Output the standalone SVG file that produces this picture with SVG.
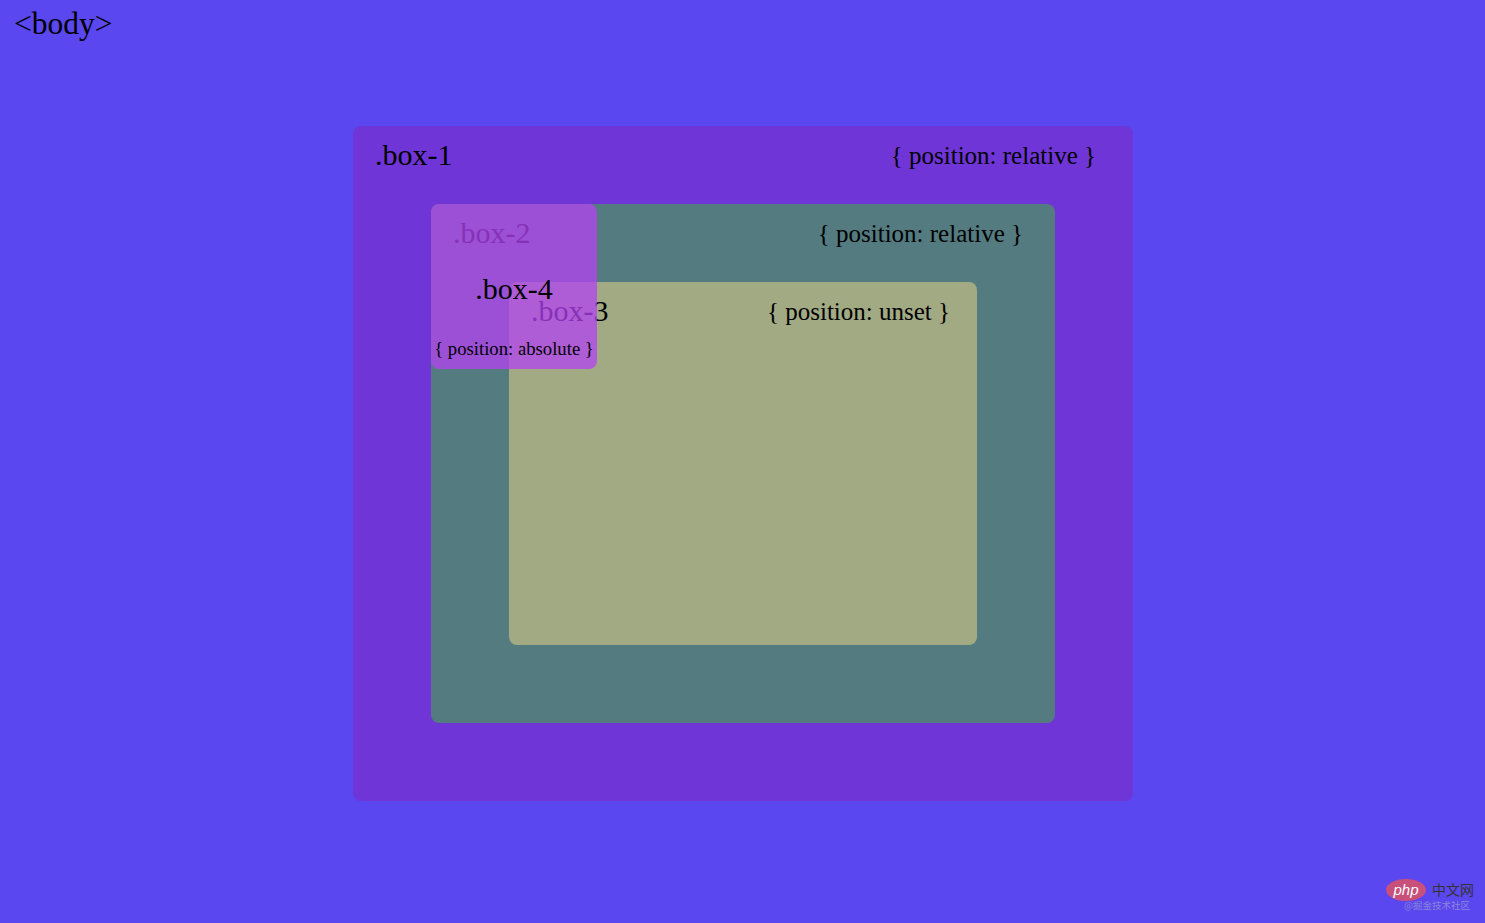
<svg xmlns="http://www.w3.org/2000/svg" width="1485" height="923" viewBox="0 0 1485 923">
<style>
text{font-family:"Liberation Serif","Times New Roman",serif;fill:#000}
.lbl{font-size:30px}
.pos{font-size:25px}
.small{font-size:18.7px}
</style>
<rect x="0" y="0" width="1485" height="923" fill="#5a47f0"/>
<text x="14" y="34" font-size="31.5">&lt;body&gt;</text>
<g id="box-1">
<rect x="353" y="126" width="780" height="675" rx="8" fill="#7035d6"/>
<text x="375" y="165" class="lbl">.box-1</text>
<text x="1096" y="164" class="pos" text-anchor="end">{ position: relative }</text>
</g>
<g id="box-2">
<rect x="431" y="204" width="624" height="519" rx="8" fill="#537b80"/>
<text x="453" y="243" class="lbl">.box-2</text>
<text x="1023" y="242" class="pos" text-anchor="end">{ position: relative }</text>
</g>
<g id="box-3">
<rect x="509" y="282" width="468" height="363" rx="8" fill="#a2aa83"/>
<text x="531" y="321" class="lbl">.box-3</text>
<text x="950" y="320" class="pos" text-anchor="end">{ position: unset }</text>
</g>
<g id="box-4">
<rect x="431" y="204" width="166" height="165" rx="8" fill="#b342f3" fill-opacity="0.75"/>
<text x="514" y="299" class="lbl" text-anchor="middle">.box-4</text>
<text x="514" y="355" class="small" text-anchor="middle">{ position: absolute }</text>
</g>
<g id="connectors"></g>
<g id="watermark">
<ellipse cx="1406" cy="890" rx="20" ry="11" fill="#c8507a"/>
<text x="1406" y="895" font-size="15" text-anchor="middle" style="fill:#fff;font-style:italic;font-family:'Liberation Sans',sans-serif">php</text>
<text x="1432" y="895" font-size="14" style="fill:#333;font-family:'Noto Sans CJK SC',sans-serif">中文网</text>
<text x="1404" y="909" font-size="9.5" style="fill:#8a86d8;font-family:'Noto Sans CJK SC',sans-serif">@掘金技术社区</text>
</g>
</svg>
